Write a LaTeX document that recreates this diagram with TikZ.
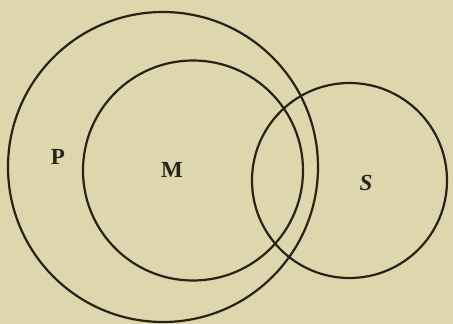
\documentclass[tikz,border=0pt]{standalone}
\usepackage{tikz}
\usepackage{fontspec}
\newfontfamily\labfont{Liberation Serif}
\definecolor{paper}{RGB}{222,214,172}
\definecolor{ink}{RGB}{40,34,24}
\tikzset{
  ring/.style={draw=ink, line width=2.2pt},
  lab/.style={text=ink, font=\labfont\bfseries\fontsize{23}{25}\selectfont, inner sep=0pt}
}
\begin{document}
\begin{tikzpicture}[x=1pt,y=-1pt]
\fill[paper] (0,0) rectangle (453,324);
\useasboundingbox (0,0) rectangle (453,324);
\draw[ring] (163,167) circle (155);
\draw[ring] (193,170.5) circle (110);
\draw[ring] (349.5,180.5) circle (97.5);
\node[lab] (P) at (58,157) {P};
\node[lab] (M) at (172,170) {M};
\node[lab] (S) at (366,183) {\itshape S};
\end{tikzpicture}
\end{document}
